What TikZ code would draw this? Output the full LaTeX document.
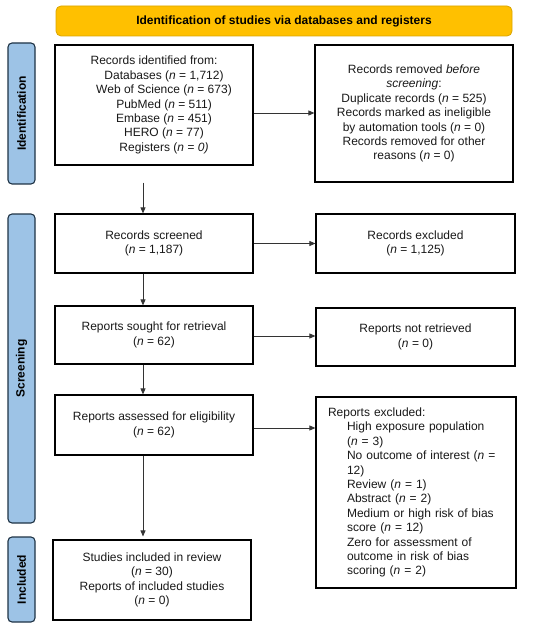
\documentclass[tikz,border=0pt]{standalone}
\usepackage{fontspec}
\setmainfont{Liberation Sans}
\usetikzlibrary{arrows.meta,calc}
\definecolor{bannerfill}{HTML}{FFC000}
\definecolor{bannerdraw}{HTML}{D9A400}
\definecolor{sidefill}{HTML}{9DC3E6}
\definecolor{sidedraw}{HTML}{1F3345}
\begin{document}
\begin{tikzpicture}[x=1pt,y=-1pt,
  every node/.style={font=\fontsize{12}{14.4}\selectfont},
  box/.style={draw=black,line width=1.2pt,fill=white,minimum width=198pt,inner sep=0pt,align=center,text=black!90},
  banner/.style={draw=bannerdraw,fill=bannerfill,line width=0.8pt,rounded corners=5pt,minimum width=456pt,minimum height=30pt,inner sep=0pt,font=\fontsize{12}{14.4}\selectfont\bfseries},
  side/.style={draw=sidedraw,fill=sidefill,line width=1.1pt,rounded corners=4pt,minimum height=27pt,inner sep=0pt,font=\fontsize{12}{14.4}\selectfont\bfseries,rotate=90},
  arr/.style={draw=black!80,line width=0.8pt,-{Triangle[length=6pt,width=5pt]}}
]
\useasboundingbox (0,0) rectangle (550,628);
\node[banner] (ban) at (284,21) {Identification of studies via databases and registers};
\node[side,minimum width=141pt] (s1) at (21.5,113.5) {Identification};
\node[side,minimum width=309pt] (s2) at (21.5,368.5) {Screening};
\node[side,minimum width=85pt] (s3) at (21.5,579.5) {Included};

\node[box,minimum height=120pt] (ident) at (154,105) {Records identified from:\\
\hspace*{20pt}Databases (\textit{n} = 1,712)\\
\hspace*{20pt}Web of Science (\textit{n} = 673)\\
\hspace*{20pt}PubMed (\textit{n} = 511)\\
\hspace*{20pt}Embase (\textit{n} = 451)\\
\hspace*{20pt}HERO (\textit{n} = 77)\\
\hspace*{20pt}Registers (\textit{n = 0)}};
\node[box,minimum height=137pt] (removed) at (414,113.5) {Records removed \textit{before}\\
\textit{screening}:\\
Duplicate records (\textit{n} = 525)\\
Records marked as ineligible\\
by automation tools (\textit{n} = 0)\\
Records removed for other\\
reasons (\textit{n} = 0)};
\node[box,minimum height=59pt] (screened) at (154,243.5) {Records screened\\(\textit{n} = 1,187)};
\node[box,minimum height=59pt,minimum width=199pt] (excluded) at (415.5,243.5) {Records excluded\\(\textit{n} = 1,125)};
\node[box,minimum height=58pt] (sought) at (154,335) {Reports sought for retrieval\\(\textit{n} = 62)};
\node[box,minimum height=58pt,minimum width=199pt] (notret) at (415.5,337) {Reports not retrieved\\(\textit{n} = 0)};
\node[box,minimum height=60pt] (assessed) at (154,425) {Reports assessed for eligibility\\(\textit{n} = 62)};
\node[box,minimum height=191pt,minimum width=200pt,text width=176pt,inner xsep=12pt,align=left] (exclrep) at (416,492.5) {Reports excluded:\\
\hspace*{19pt}High exposure population\\
\hspace*{19pt}(\textit{n} = 3)\\
\hspace*{19pt}No outcome of interest (\textit{n} =\\
\hspace*{19pt}12)\\
\hspace*{19pt}Review (\textit{n} = 1)\\
\hspace*{19pt}Abstract (\textit{n} = 2)\\
\hspace*{19pt}Medium or high risk of bias\\
\hspace*{19pt}score (\textit{n} = 12)\\
\hspace*{19pt}Zero for assessment of\\
\hspace*{19pt}outcome in risk of bias\\
\hspace*{19pt}scoring (\textit{n} = 2)};
\node[box,minimum height=80pt] (incl) at (152,580) {Studies included in review\\(\textit{n} = 30)\\Reports of included studies\\(\textit{n} = 0)};

\coordinate (ax) at (143,0);
\draw[arr] ([yshift=-8pt]ident.east) -- ([yshift=-8pt]ident.east -| removed.west);
\draw[arr] (ax |- removed.south) -- (ax |- screened.north);
\draw[arr] (screened.east) -- (screened.east -| excluded.west);
\draw[arr] (ax |- screened.south) -- (ax |- sought.north);
\draw[arr] ([yshift=-1pt]sought.east) -- ([yshift=-1pt]sought.east -| notret.west);
\draw[arr] (ax |- sought.south) -- (ax |- assessed.north);
\draw[arr] ([yshift=-3pt]assessed.east) -- ([yshift=-3pt]assessed.east -| exclrep.west);
\draw[arr] (ax |- assessed.south) -- (ax |- s3.east);
\end{tikzpicture}
\end{document}
